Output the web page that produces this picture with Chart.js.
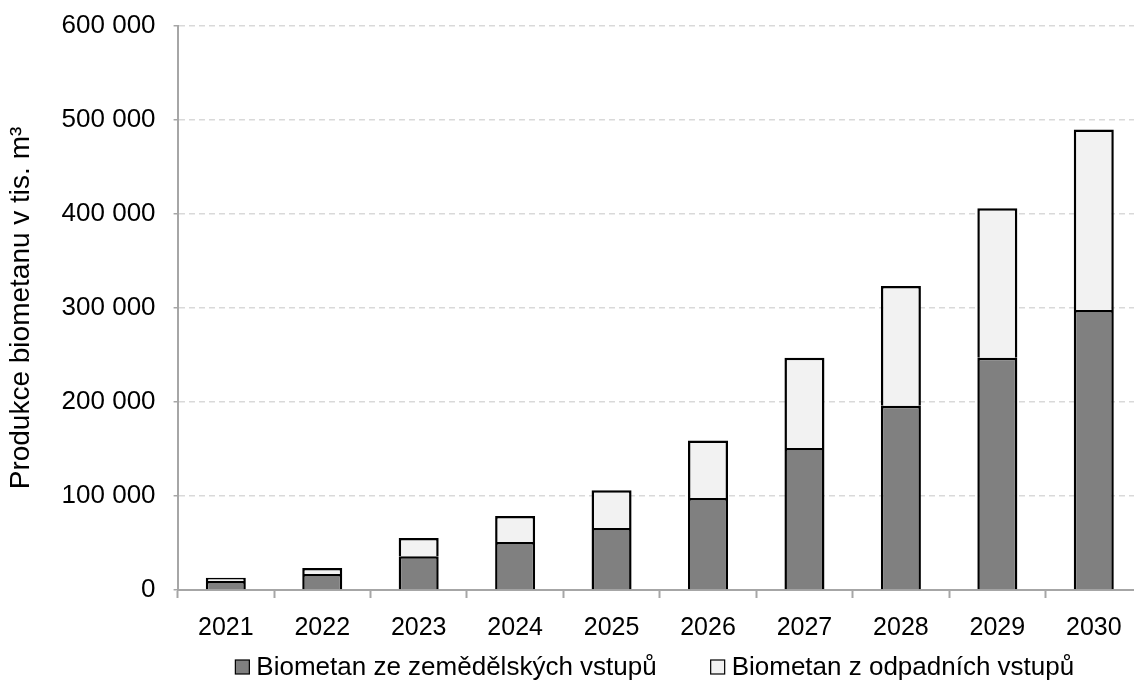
<!DOCTYPE html>
<html lang="cs">
<head>
<meta charset="utf-8">
<title>Produkce biometanu</title>
<script src="https://cdn.jsdelivr.net/npm/chart.js@4/dist/chart.umd.min.js"></script>
<style>
  html, body { margin: 0; padding: 0; background: #ffffff; }
  #frame { width: 1134px; height: 689px; overflow: hidden; position: relative; }
  #box { width: 1152px; height: 689px; position: absolute; left: 0; top: 0; }
</style>
</head>
<body>
<div id="frame"><div id="box"><canvas id="chart"></canvas></div></div>
<script>
// Roky a produkce biometanu (tis. m³)
const years = ['2021', '2022', '2023', '2024', '2025', '2026', '2027', '2028', '2029', '2030'];
const agriculturalInputs = [9500, 17000, 36000, 51000, 66000, 98000, 151000, 196000, 247000, 298000];
const wasteInputs = [3500, 6500, 19300, 27700, 40000, 61000, 96000, 127500, 159000, 192000];
const seriesNames = ['Biometan ze zemědělských vstupů', 'Biometan z odpadních vstupů'];
const axisTitle = 'Produkce biometanu v tis. m³';

const FONT = '"Liberation Sans", Arial, sans-serif';

function formatThousands(v) {
  return String(v).replace(/\B(?=(\d{3})+(?!\d))/g, ' ');
}

// Legenda pod grafem: čtvercové značky a popisky datových řad v jednom řádku,
// vystředěné pod plochou grafu.
const bottomLegend = {
  id: 'bottomLegend',
  afterDraw(chart, args, opts) {
    const ctx = chart.ctx;
    const area = chart.chartArea;
    ctx.save();
    ctx.font = opts.fontSize + 'px ' + FONT;
    ctx.textBaseline = 'middle';
    ctx.textAlign = 'left';
    const items = chart.data.datasets.map(ds => ({
      text: ds.label,
      fill: ds.backgroundColor,
      width: opts.box + opts.textGap + ctx.measureText(ds.label).width
    }));
    const total = items.reduce((s, it) => s + it.width, 0) + opts.itemGap * (items.length - 1);
    let x = (area.left + area.right) / 2 - total / 2 + opts.shift;
    const y = chart.height - opts.bottom;
    items.forEach(it => {
      ctx.fillStyle = it.fill;
      ctx.fillRect(x, y - opts.box / 2, opts.box, opts.box);
      ctx.strokeStyle = '#000000';
      ctx.lineWidth = 1.2;
      ctx.strokeRect(x, y - opts.box / 2, opts.box, opts.box);
      ctx.fillStyle = '#000000';
      ctx.fillText(it.text, x + opts.box + opts.textGap, y + 1);
      x += it.width + opts.itemGap;
    });
    ctx.restore();
  }
};

new Chart(document.getElementById('chart'), {
  type: 'bar',
  data: {
    labels: years,
    datasets: [
      {
        label: seriesNames[0],
        data: agriculturalInputs,
        backgroundColor: '#808080',
        borderColor: '#000000',
        borderWidth: 2.5,
        barPercentage: 0.415,
        categoryPercentage: 1
      },
      {
        label: seriesNames[1],
        data: wasteInputs,
        backgroundColor: '#f2f2f2',
        borderColor: '#000000',
        borderWidth: 2.5,
        barPercentage: 0.415,
        categoryPercentage: 1
      }
    ]
  },
  plugins: [bottomLegend],
  options: {
    responsive: true,
    maintainAspectRatio: false,
    animation: false,
    layout: { padding: { top: 26, right: 10, bottom: 31, left: 4 } },
    plugins: {
      tooltip: { enabled: false },
      legend: { display: false },
      bottomLegend: { fontSize: 26, box: 14, textGap: 7, itemGap: 54, bottom: 22, shift: -5 }
    },
    scales: {
      x: {
        stacked: true,
        offset: true,
        grid: {
          offset: true,
          drawOnChartArea: false,
          drawTicks: true,
          tickLength: 8,
          tickColor: '#a6a6a6',
          tickWidth: 2
        },
        border: { color: '#a6a6a6', width: 2 },
        ticks: {
          color: '#000000',
          font: { family: FONT, size: 25 },
          padding: 15,
          maxRotation: 0
        }
      },
      y: {
        stacked: true,
        min: 0,
        max: 600000,
        // horní okraj osy určuje jen vnější odsazení grafu
        afterFit(scale) {
          scale.paddingTop = 0;
        },
        grid: {
          color: '#d9d9d9',
          lineWidth: 1.5,
          drawTicks: true,
          tickLength: 4,
          tickColor: '#a6a6a6',
          tickBorderDash: []
        },
        border: { color: '#a6a6a6', width: 2, dash: [6, 4] },
        ticks: {
          stepSize: 100000,
          color: '#000000',
          font: { family: FONT, size: 26 },
          padding: 18,
          callback: (v) => formatThousands(v)
        },
        title: {
          display: true,
          text: axisTitle,
          color: '#000000',
          font: { family: FONT, size: 28 },
          padding: { top: 0, bottom: 6 }
        }
      }
    }
  }
});
</script>
</body>
</html>
